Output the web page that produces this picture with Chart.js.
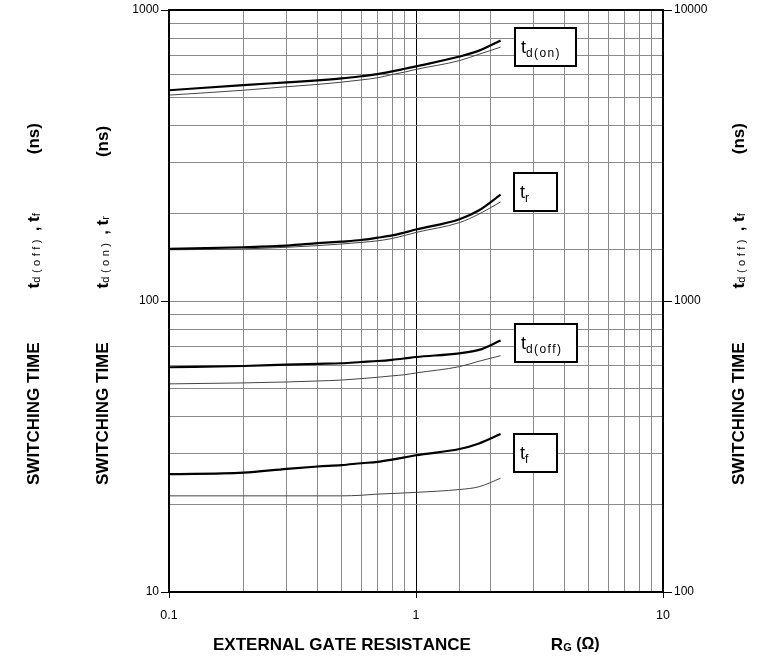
<!DOCTYPE html>
<html>
<head>
<meta charset="utf-8">
<script src="https://cdn.jsdelivr.net/npm/chart.js@4/dist/chart.umd.min.js"></script>
<style>
html,body{margin:0;padding:0;background:#fff;}
#wrap{width:773px;height:659px;position:relative;}
</style>
</head>
<body>
<div id="wrap"><canvas id="c" width="773" height="659"></canvas></div>
<script>
// ---- data ----
const rgValues = [0.1, 0.2, 0.3, 0.4, 0.5, 0.6, 0.7, 0.8, 0.9, 1, 1.5, 1.8, 2.2];
const tdOnThick  = [530, 552, 564, 573, 582, 592, 602, 615, 628, 640, 692, 725, 785];
const tdOnThin   = [510, 530, 545, 555, 565, 575, 585, 600, 612, 625, 670, 705, 745];
const trThick    = [151, 153, 155, 158, 160, 162, 165, 168, 172, 176, 191, 205, 232];
const trThin     = [150, 151, 153, 155, 157, 159, 161, 164, 168, 172, 186, 199, 219];
const tdOffThick = [59.2, 59.8, 60.4, 60.8, 61.1, 61.7, 62.2, 62.8, 63.5, 64.2, 66.1, 67.9, 73.1];
const tdOffThin  = [51.9, 52.3, 52.7, 53.1, 53.5, 54.1, 54.7, 55.3, 55.8, 56.6, 59.5, 62.1, 64.9];
const tfThick    = [25.4, 25.7, 26.5, 27.0, 27.3, 27.7, 28.0, 28.5, 29.0, 29.5, 31.0, 32.4, 34.9];
const tfThin     = [21.4, 21.4, 21.4, 21.4, 21.4, 21.5, 21.7, 21.8, 21.9, 22.0, 22.5, 23.0, 24.6];
const xTickLabels  = [0.1, 1, 10];
const yTickLabels  = [10, 100, 1000];
const y2TickLabels = [100, 1000, 10000];
const legendSubs = ['d(on)', 'r', 'd(off)', 'f'];

const FONT = '"Liberation Sans", Arial, sans-serif';

function pts(arr){ return rgValues.map((x,i)=>({x:x, y:arr[i]})); }
function isIn(list, v){ return list.some(t => Math.abs(t - v) / t < 1e-6); }

const thick = {borderColor:'#000', borderWidth:2.2, pointRadius:0, fill:false, cubicInterpolationMode:'monotone'};
const thin  = {borderColor:'#444', borderWidth:1, pointRadius:0, fill:false, cubicInterpolationMode:'monotone'};

function drawRich(ctx, parts, x, y){
  let cx = x;
  for (const p of parts){
    if (p.gap){ cx += p.gap; continue; }
    ctx.font = (p.bold?'bold ':'') + p.size + 'px ' + FONT;
    for (const ch of p.t){
      ctx.fillText(ch, cx, y + (p.dy||0));
      cx += ctx.measureText(ch).width + (p.sp||0);
    }
  }
}

function yTitleParts(sub1, sub2){
  return [
    {t:'SWITCHING TIME', size:17, bold:true},
    {gap:54},
    {t:'t', size:17, bold:true},
    {t:sub1, size:11, bold:false, dy:3, sp:3.5},
    {t:' , ', size:17, bold:true},
    {t:'t', size:17, bold:true},
    {t:sub2, size:11, bold:false, dy:3, sp:3},
    {gap:56},
    {t:'(ns)', size:17, bold:true}
  ];
}

const decor = {
  id:'decor',
  afterDatasetsDraw(chart){
    const ctx = chart.ctx, a = chart.chartArea;
    ctx.save();
    ctx.strokeStyle = '#000'; ctx.lineWidth = 2;
    ctx.strokeRect(a.left, a.top, a.right - a.left, a.bottom - a.top);
    const boxes = [
      {x:515, y:28, w:61, h:38},
      {x:514, y:173, w:43, h:38},
      {x:515, y:324, w:62, h:38},
      {x:514, y:434, w:43, h:38}
    ];
    ctx.textBaseline = 'alphabetic'; ctx.textAlign = 'left';
    boxes.forEach((b,i)=>{
      ctx.fillStyle = '#fff';
      ctx.fillRect(b.x, b.y, b.w, b.h);
      ctx.strokeStyle = '#000'; ctx.lineWidth = 2;
      ctx.strokeRect(b.x, b.y, b.w, b.h);
      ctx.fillStyle = '#000';
      drawRich(ctx, [
        {t:'t', size:18},
        {t:legendSubs[i], size:12, dy:4, sp:1.4}
      ], b.x + 6, b.y + 25);
    });
    ctx.restore();
  },
  afterDraw(chart){
    const ctx = chart.ctx;
    ctx.save();
    ctx.fillStyle = '#000';
    ctx.textBaseline = 'middle'; ctx.textAlign = 'left';
    const startY = 485;
    const titles = [
      {x:34,  parts:yTitleParts('d(off)','f')},
      {x:103, parts:yTitleParts('d(on)','r')},
      {x:739, parts:yTitleParts('d(off)','f')}
    ];
    titles.forEach(tt=>{
      ctx.save();
      ctx.translate(tt.x, startY);
      ctx.rotate(-Math.PI/2);
      drawRich(ctx, tt.parts, 0, 0);
      ctx.restore();
    });
    const xparts = [
      {t:'EXTERNAL GATE RESISTANCE', size:17, bold:true},
      {gap:80},
      {t:'R', size:17, bold:true},
      {t:'G', size:11, bold:true, dy:3},
      {t:' (\u03A9)', size:16, bold:true}
    ];
    drawRich(ctx, xparts, 213, 645);
    ctx.restore();
  }
};

const tickCol = (list) => (c) => (c.tick && isIn(list, c.tick.value)) ? '#000' : 'rgba(0,0,0,0)';

new Chart(document.getElementById('c'), {
  type:'line',
  data:{
    datasets:[
      Object.assign({label:'td(on) a', data:pts(tdOnThick)}, thick),
      Object.assign({label:'td(on) b', data:pts(tdOnThin)}, thin),
      Object.assign({label:'tr a', data:pts(trThick)}, thick),
      Object.assign({label:'tr b', data:pts(trThin)}, thin),
      Object.assign({label:'td(off) a', data:pts(tdOffThick)}, thick),
      Object.assign({label:'td(off) b', data:pts(tdOffThin)}, thin),
      Object.assign({label:'tf a', data:pts(tfThick)}, thick),
      Object.assign({label:'tf b', data:pts(tfThin)}, thin)
    ]
  },
  options:{
    responsive:false,
    animation:false,
    devicePixelRatio:1,
    layout:{padding:{top:10, left:0, right:0, bottom:0}},
    plugins:{legend:{display:false}, tooltip:{enabled:false}, title:{display:false}},
    scales:{
      x:{
        type:'logarithmic', position:'bottom', min:0.1, max:10,
        afterFit(s){ s.height = 67; },
        border:{display:true, color:'#000', width:2},
        grid:{
          color:(c)=> (c.tick && Math.abs(c.tick.value-1)<1e-9) ? '#000' : '#8a8a8a',
          lineWidth:1, drawTicks:true, tickLength:6, tickColor:tickCol(xTickLabels)
        },
        ticks:{
          autoSkip:false, maxRotation:0, padding:10, color:'#000',
          font:{family:FONT, size:12.5},
          callback:(v)=> isIn(xTickLabels, v) ? String(xTickLabels.find(t=>Math.abs(t-v)/t<1e-6)) : ''
        }
      },
      y:{
        type:'logarithmic', position:'left', min:10, max:1000,
        afterFit(s){ s.width = 169; },
        border:{display:true, color:'#000', width:2},
        grid:{
          color:'#8a8a8a', lineWidth:1, drawTicks:true, tickLength:8, tickColor:tickCol(yTickLabels)
        },
        ticks:{
          autoSkip:false, padding:2, color:'#000',
          font:{family:FONT, size:12},
          callback:(v)=> isIn(yTickLabels, v) ? String(yTickLabels.find(t=>Math.abs(t-v)/t<1e-6)) : ''
        }
      },
      y2:{
        type:'logarithmic', position:'right', min:100, max:10000,
        afterFit(s){ s.width = 110; },
        border:{display:true, color:'#000', width:2},
        grid:{
          drawOnChartArea:false, drawTicks:true, tickLength:9, tickColor:tickCol(y2TickLabels)
        },
        ticks:{
          autoSkip:false, padding:2, color:'#000',
          font:{family:FONT, size:12},
          callback:(v)=> isIn(y2TickLabels, v) ? String(y2TickLabels.find(t=>Math.abs(t-v)/t<1e-6)) : ''
        }
      }
    }
  },
  plugins:[decor]
});
</script>
</body>
</html>
